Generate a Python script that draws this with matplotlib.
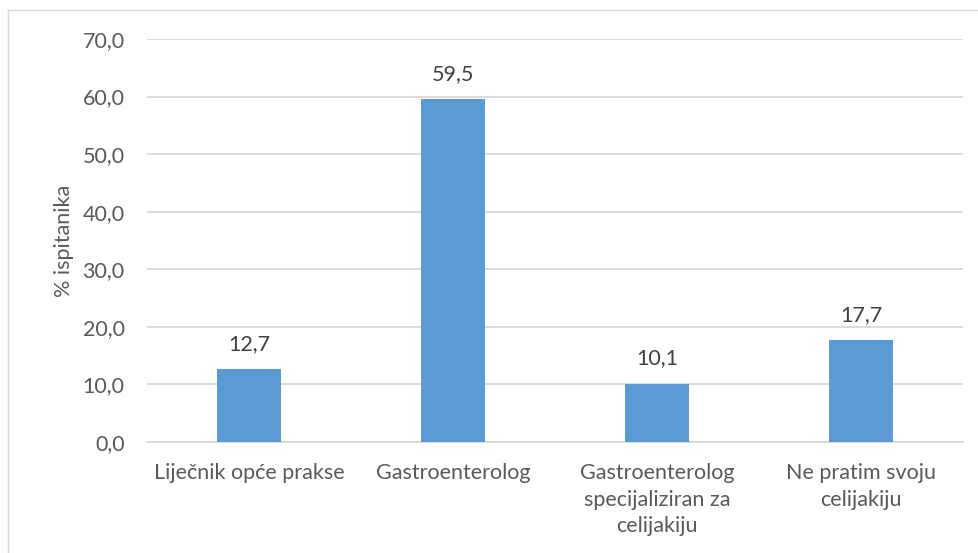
import matplotlib
matplotlib.use("Agg")
import matplotlib.pyplot as plt
from matplotlib.lines import Line2D

categories = ["Liječnik opće prakse", "Gastroenterolog",
              "Gastroenterolog\nspecijaliziran za\ncelijakiju", "Ne pratim svoju\ncelijakiju"]
values = [12.7, 59.5, 10.1, 17.7]
yticks = [0, 10, 20, 30, 40, 50, 60, 70]
ylabel = "% ispitanika"

plt.rcParams['font.family'] = ['Lato', 'DejaVu Sans']
txt = "#595959"
fs = 15.5

fig = plt.figure(figsize=(9.79, 5.53), dpi=100)
ax = fig.add_axes([0.150, 0.2007, 0.8337, 0.7288])
x = list(range(len(categories)))
ax.bar(x, values, width=0.314, color="#5B9BD5", zorder=3)
for xi, v in zip(x, values):
    ax.annotate(f"{v:.1f}".replace(".", ","), (xi, v), xytext=(0, 11),
                textcoords="offset points", ha="center", va="bottom",
                fontsize=fs, color="#404040")
ax.set_xlim(-0.5, len(categories) - 0.5)
ax.set_ylim(0, 70)
ax.set_yticks(yticks)
ax.set_yticklabels([f"{t:.1f}".replace(".", ",") for t in yticks], fontsize=fs, color=txt)
ax.set_xticks(x)
ax.set_xticklabels(categories, fontsize=fs, color=txt, linespacing=1.42)
ax.tick_params(axis='x', length=0, pad=15)
ax.tick_params(axis='y', length=0, pad=16)
ax.yaxis.grid(True, color="#D9D9D9", linewidth=1.3, zorder=0)
for s in ["top", "right", "left"]:
    ax.spines[s].set_visible(False)
ax.spines["bottom"].set_color("#D9D9D9")
ax.spines["bottom"].set_linewidth(1.3)
ax.set_ylabel(ylabel, fontsize=fs, color=txt, labelpad=6)

fig.add_artist(Line2D([8/979, 8/979], [0, 1 - 10/553], color="#D9D9D9", lw=1, transform=fig.transFigure))
fig.add_artist(Line2D([8/979, 1], [1 - 10/553, 1 - 10/553], color="#D9D9D9", lw=1, transform=fig.transFigure))

fig.savefig("out.png", dpi=100)
